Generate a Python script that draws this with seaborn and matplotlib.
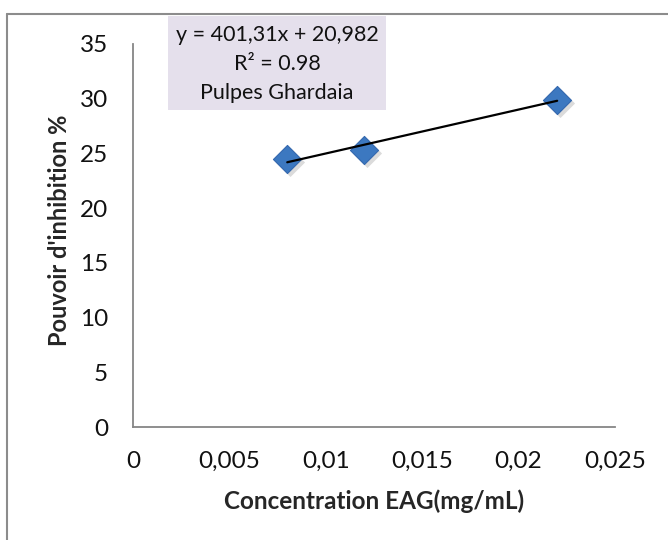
import matplotlib
matplotlib.use("Agg")
import matplotlib.pyplot as plt
import matplotlib.transforms as mtransforms
from matplotlib.patches import Rectangle
from matplotlib.lines import Line2D
import numpy as np
import pandas as pd
import seaborn as sns

# Measured points
concentration = [0.008, 0.012, 0.022]          # mg/mL
inhibition = [24.5, 25.3, 29.9]                # %

# Linear trendline
slope = 401.31
intercept = 20.982
r_squared = 0.98
series_name = "Pulpes Ghardaia"

x_ticks = [0, 0.005, 0.01, 0.015, 0.02, 0.025]
x_tick_labels = ["0", "0,005", "0,01", "0,015", "0,02", "0,025"]
y_ticks = [0, 5, 10, 15, 20, 25, 30, 35]

x_label = "Concentration EAG(mg/mL)"
y_label = "Pouvoir d'inhibition %"

sns.set_theme(style="white")
plt.rcParams["font.family"] = ["Lato", "DejaVu Sans"]

W, H = 668, 540
fig = plt.figure(figsize=(W / 100, H / 100), dpi=100)
fig.patch.set_facecolor("white")


def fx(px):
    return px / W


def fy(py):
    return 1 - py / H


ax = fig.add_axes([fx(133), fy(427), fx(615) - fx(133), fy(44) - fy(427)])

df = pd.DataFrame({"x": concentration, "y": inhibition})

# soft drop shadow under the markers
shadow = mtransforms.offset_copy(ax.transData, fig=fig, x=2.5, y=-3, units="dots")
ax.scatter(df["x"], df["y"], marker="D", s=220, color="#8a8a8a", alpha=0.3,
           linewidths=0, transform=shadow, zorder=2)
sns.scatterplot(data=df, x="x", y="y", marker="D", s=205, color="#3C78C0",
                edgecolor="#3468AE", linewidth=0.8, ax=ax, zorder=3, legend=False)

# trendline over the data range
x_fit = np.array([min(concentration), max(concentration)])
fit_df = pd.DataFrame({"x": x_fit, "y": slope * x_fit + intercept})
sns.lineplot(data=fit_df, x="x", y="y", color="black", linewidth=1.6, ax=ax, zorder=4)

ax.set_xlim(0, 0.025)
ax.set_ylim(0, 35)
ax.set_xticks(x_ticks)
ax.set_xticklabels(x_tick_labels)
ax.set_yticks(y_ticks)
ax.set_yticklabels([str(v) for v in y_ticks])

axis_grey = "#868686"
for side in ("top", "right"):
    ax.spines[side].set_visible(False)
for side in ("left", "bottom"):
    ax.spines[side].set_color(axis_grey)
    ax.spines[side].set_linewidth(1.3)
ax.tick_params(axis="both", which="major", direction="out", length=6, width=1.3,
               color=axis_grey, labelsize=17.5, labelcolor="#111111")
ax.tick_params(axis="x", pad=11)
ax.tick_params(axis="y", pad=12)
ax.grid(False)

ax.set_xlabel(x_label, fontsize=17.5, fontweight="bold", labelpad=13)
ax.set_ylabel(y_label, fontsize=17, fontweight="bold", labelpad=6)
ax.yaxis.label.set_y(0.514)

# equation box
fig.patches.append(Rectangle((fx(168), fy(110)), fx(386) - fx(168), fy(16) - fy(110),
                             transform=fig.transFigure, facecolor="#E5E0EC",
                             edgecolor="none", zorder=5))
box_cx = fx(277)
box_lines = [
    f"y = {slope:.2f}x + {intercept:.3f}".replace(".", ","),
    f"R² = {r_squared:.2f}",
    series_name,
]
for text, py in zip(box_lines, [35, 64, 93]):
    fig.text(box_cx, fy(py), text, ha="center", va="center", fontsize=15.5,
             color="#111111", zorder=6)

# chart frame
frame_grey = "#8C8C8C"
fig.lines.append(Line2D([fx(7), fx(7)], [fy(14), 0], transform=fig.transFigure,
                        color=frame_grey, linewidth=1.5))
fig.lines.append(Line2D([fx(7), 1], [fy(14), fy(14)], transform=fig.transFigure,
                        color=frame_grey, linewidth=1.5))

fig.savefig("out.png", dpi=100, facecolor="white")
